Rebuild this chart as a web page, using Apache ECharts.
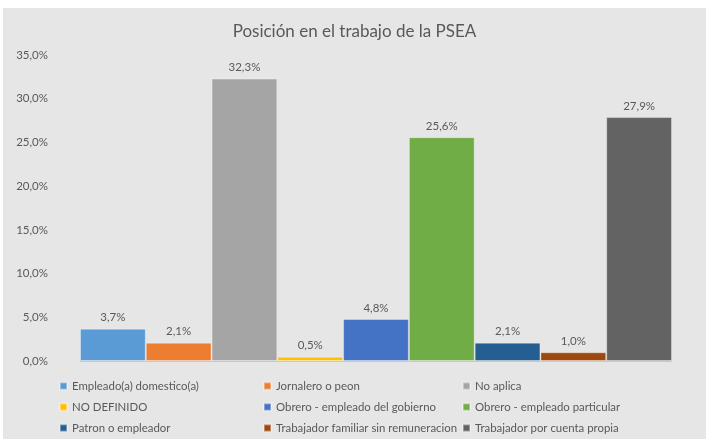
<!DOCTYPE html>
<html>
<head>
<meta charset="utf-8">
<script src="https://cdn.jsdelivr.net/npm/echarts@6/dist/echarts.min.js"></script>
<style>
  html, body { margin: 0; padding: 0; background: #ffffff; }
  #main { position: absolute; left: 3px; top: 8px; width: 703px; height: 431px; }
</style>
</head>
<body>
<div id="main"></div>
<script>
// data
var seriesNames = [
  "Empleado(a) domestico(a)",
  "Jornalero o peon",
  "No aplica",
  "NO DEFINIDO",
  "Obrero - empleado del gobierno",
  "Obrero - empleado particular",
  "Patron o empleador",
  "Trabajador familiar sin remuneracion",
  "Trabajador por cuenta propia"
];
var seriesValues = [3.7, 2.1, 32.3, 0.5, 4.8, 25.6, 2.1, 1.0, 27.9];
var seriesColors = ["#5B9BD5", "#ED7D31", "#A5A5A5", "#FFC000", "#4472C4", "#70AD47", "#255E91", "#9E480E", "#636363"];
var yTicks = [0, 5, 10, 15, 20, 25, 30, 35];

var font = "Lato, 'Noto Sans', sans-serif";
var textColor = "#595959";

function pct(v) {
  return v.toFixed(1).replace(".", ",") + "%";
}

var chartDom = document.getElementById("main");
var myChart = echarts.init(chartDom);

var series = seriesNames.map(function (name, i) {
  return {
    name: name,
    type: "bar",
    data: [seriesValues[i]],
    barGap: "0%",
    barCategoryGap: "0%",
    itemStyle: {
      color: seriesColors[i],
      borderColor: "rgba(255,255,255,0.35)",
      borderWidth: 1
    },
    label: {
      show: true,
      position: "top",
      distance: 5,
      color: textColor,
      fontFamily: font,
      fontSize: 11.5,
      formatter: function (p) { return pct(p.value); }
    },
    animation: false
  };
});

// legend in three columns like the original
function legendCol(left, names) {
  return {
    orient: "vertical",
    left: left,
    top: 371,
    height: 60,
    padding: 0,
    itemWidth: 7,
    itemHeight: 7,
    itemGap: 7,
    icon: "rect",
    data: names,
    textStyle: { color: textColor, fontFamily: font, fontSize: 11.4, lineHeight: 14 }
  };
}

var option = {
  backgroundColor: "#e6e6e6",
  title: {
    text: "Posición en el trabajo de la PSEA",
    left: "center",
    top: 10,
    textStyle: { color: textColor, fontFamily: font, fontSize: 17, fontWeight: "normal" }
  },
  legend: [
    legendCol(56, [seriesNames[0], seriesNames[3], seriesNames[6]]),
    legendCol(260, [seriesNames[1], seriesNames[4], seriesNames[7]]),
    legendCol(459, [seriesNames[2], seriesNames[5], seriesNames[8]])
  ],
  grid: { left: 77, right: 34, top: 47, bottom: 78, containLabel: false },
  xAxis: {
    type: "category",
    data: [""],
    axisLine: { lineStyle: { color: "#c8c8c8" } },
    axisTick: { show: false },
    axisLabel: { show: false }
  },
  yAxis: {
    type: "value",
    min: yTicks[0],
    max: yTicks[yTicks.length - 1],
    interval: 5,
    splitLine: { show: false },
    axisLine: { show: false },
    axisTick: { show: false },
    axisLabel: {
      margin: 32,
      color: textColor,
      fontFamily: font,
      fontSize: 11.5,
      formatter: function (v) { return pct(v); }
    }
  },
  series: series
};

option && myChart.setOption(option);
</script>
</body>
</html>
